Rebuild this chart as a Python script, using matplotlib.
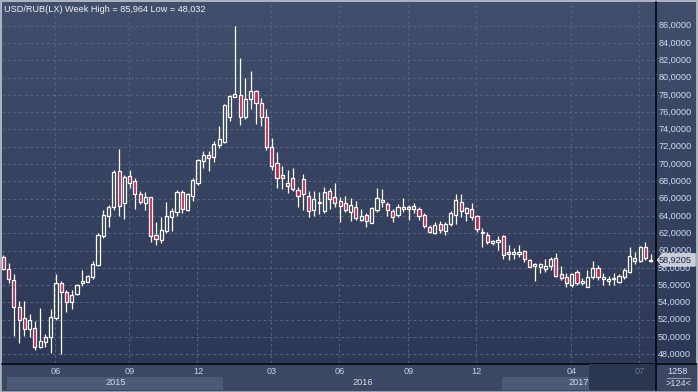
import numpy as np
import matplotlib
matplotlib.use('Agg')
import matplotlib.pyplot as plt
from matplotlib.patches import Rectangle, Polygon

# weekly USD/RUB candles (oldest first)
opens = [59.22, 57.84, 56.60, 53.44, 52.17, 50.90, 51.02, 48.89, 49.47, 50.05,
         52.24, 56.25, 55.25, 54.02, 54.95, 56.22, 56.40, 56.91, 58.37, 61.69,
         64.03, 65.00, 69.20, 65.47, 68.62, 68.05, 66.54, 65.54, 66.20, 61.77,
         61.22, 62.30, 63.92, 64.50, 66.74, 64.69, 66.35, 67.85, 70.39, 71.05,
         70.79, 72.21, 72.59, 75.48, 77.79, 77.95, 75.48, 77.53, 78.45, 77.03,
         75.41, 72.03, 70.09, 68.71, 67.78, 68.36, 66.97, 68.24, 66.31, 64.69,
         65.47, 64.61, 66.89, 66.16, 65.73, 65.47, 64.43, 65.00, 63.54, 64.11,
         63.22, 64.69, 65.85, 65.39, 64.58, 64.11, 64.81, 65.00, 64.84, 64.81,
         64.11, 62.76, 62.07, 63.07, 62.30, 63.07, 64.11, 65.65, 64.38, 64.77,
         64.00, 62.00, 61.80, 60.91, 60.96, 61.69, 59.57, 59.61, 59.61, 59.95,
         58.91, 58.25, 58.14, 57.87, 58.22, 59.11, 57.26, 56.91, 55.99, 57.49,
         56.22, 55.83, 56.91, 57.95, 56.68, 56.52, 56.72, 56.40, 56.91, 57.56,
         58.85, 58.83, 60.38, 58.75]
highs = [59.50, 58.60, 57.29, 54.17, 54.17, 52.67, 51.89, 53.36, 50.36, 53.25,
         57.29, 56.52, 55.44, 55.44, 56.10, 57.75, 57.20, 58.80, 62.00, 64.69,
         65.27, 69.32, 71.75, 68.74, 69.32, 68.43, 66.89, 66.77, 66.25, 63.31,
         63.88, 65.62, 64.89, 67.00, 67.00, 66.60, 68.43, 70.59, 71.51, 71.51,
         72.70, 74.41, 77.00, 77.99, 85.96, 82.30, 79.92, 80.76, 78.57, 77.61,
         76.33, 72.98, 71.36, 69.72, 69.32, 69.51, 67.32, 68.82, 66.89, 66.89,
         66.81, 67.32, 67.20, 67.85, 66.23, 66.35, 66.05, 65.77, 64.81, 64.38,
         65.07, 67.20, 67.12, 65.65, 64.77, 65.39, 66.05, 65.27, 65.47, 65.00,
         64.31, 62.96, 63.34, 63.46, 63.34, 64.58, 66.51, 66.54, 65.07, 65.47,
         64.11, 62.58, 62.18, 61.22, 61.69, 61.77, 60.65, 60.26, 60.65, 60.07,
         59.00, 58.53, 58.53, 58.99, 59.22, 59.69, 58.22, 57.37, 57.37, 57.75,
         56.80, 57.75, 58.83, 58.33, 57.44, 57.06, 57.44, 57.29, 57.95, 60.45,
         59.87, 60.53, 61.03, 59.61]
lows = [57.70, 56.22, 50.13, 49.32, 50.13, 50.05, 48.51, 48.74, 48.89, 48.16,
        51.97, 48.03, 52.93, 53.25, 54.90, 55.94, 56.37, 56.68, 58.20, 61.42,
        62.69, 64.69, 63.99, 63.65, 67.20, 64.81, 65.39, 64.69, 61.03, 60.65,
        60.88, 62.07, 62.30, 64.00, 64.31, 64.60, 65.77, 67.58, 69.58, 69.24,
        70.28, 71.83, 72.40, 75.02, 77.75, 74.52, 75.21, 76.33, 74.63, 74.44,
        71.63, 69.32, 67.27, 67.12, 66.62, 66.92, 65.07, 64.69, 63.92, 64.03,
        64.23, 64.38, 64.81, 65.07, 63.31, 64.50, 63.46, 63.54, 63.46, 62.69,
        63.15, 64.50, 65.00, 64.00, 63.34, 63.92, 64.50, 63.54, 64.38, 63.54,
        62.61, 62.00, 61.88, 62.00, 61.80, 62.84, 63.07, 63.92, 63.42, 63.54,
        62.18, 60.38, 60.76, 60.65, 60.07, 59.03, 58.91, 58.99, 59.22, 58.72,
        58.07, 56.52, 57.37, 57.56, 57.75, 56.98, 56.60, 55.83, 55.76, 56.02,
        55.99, 55.76, 56.68, 56.60, 56.02, 56.02, 56.02, 56.22, 56.68, 57.37,
        58.45, 58.72, 58.91, 58.72]
closes = [57.84, 56.68, 53.51, 51.97, 50.90, 51.97, 48.89, 49.55, 49.98, 52.36,
          56.25, 55.21, 54.02, 54.87, 56.02, 56.48, 57.06, 58.45, 61.80, 64.11,
          65.00, 69.08, 65.15, 68.47, 67.85, 66.51, 65.58, 66.16, 61.72, 61.31,
          62.38, 64.00, 64.58, 66.74, 64.77, 66.51, 68.16, 70.47, 71.05, 70.67,
          72.32, 72.90, 76.83, 77.87, 78.07, 75.48, 77.53, 78.45, 77.03, 75.48,
          72.01, 69.81, 68.36, 68.43, 67.50, 67.09, 66.35, 66.51, 64.61, 65.93,
          65.62, 66.74, 66.00, 65.54, 65.19, 64.69, 65.27, 63.80, 64.00, 63.46,
          64.92, 66.08, 65.58, 64.69, 63.85, 65.00, 65.07, 64.77, 65.12, 64.00,
          62.79, 62.18, 62.96, 62.38, 63.02, 64.38, 65.85, 64.61, 64.89, 63.85,
          62.50, 62.18, 61.03, 61.03, 61.22, 59.49, 59.80, 59.87, 59.87, 58.99,
          58.14, 58.41, 58.41, 58.22, 58.99, 57.10, 56.80, 56.22, 57.26, 56.22,
          56.48, 56.91, 57.95, 56.98, 56.91, 56.68, 56.87, 57.06, 57.75, 59.37,
          59.11, 60.38, 59.11, 58.92]

# x axis: week index of the month ticks
month_pos = [10, 24, 37, 51, 64, 77, 90, 108, 121]
month_lbl = ['06', '09', '12', '03', '06', '09', '12', '04', '07']
# year bands: start, end (week index), label position
year_bands = [(0.7, 41.7, 21.4, '2015'), (41.7, 94.8, 68.3, '2016'), (94.8, 123.8, 109.4, '2017')]
price_ticks = list(range(48, 87, 2))
last_price = 58.9205
title = 'USD/RUB(LX) Week High = 85,964 Low = 48,032'

W, H = 698, 392
plt.rcParams['font.family'] = ['Liberation Sans', 'DejaVu Sans']
fig = plt.figure(figsize=(W / 100, H / 100), dpi=100)

# ---- background / frame (pixel coords) ----
bg = fig.add_axes([0, 0, 1, 1])
bg.set_xlim(0, W)
bg.set_ylim(H, 0)
bg.axis('off')
bg.add_patch(Rectangle((0, 0), W, H, color='#aab2bf', zorder=0))
grad = np.linspace(0, 1, 256).reshape(-1, 1)
top_c = np.array([0x42, 0x4f, 0x6c]) / 255
bot_c = np.array([0x2c, 0x38, 0x55]) / 255
img = top_c + (bot_c - top_c) * grad[..., None]
bg.imshow(img, extent=[2, 696, 363, 2], aspect='auto', zorder=1)
bg.add_patch(Rectangle((2, 363), 694, 27, color='#3c4863', zorder=1))
bg.plot([655.5, 655.5], [2, 390], color='black', lw=1.1, zorder=5)
bg.plot([2, 696], [363.5, 363.5], color='black', lw=1.1, zorder=5)
bg.plot([667, 690], [377.5, 377.5], color='#8d98ad', lw=0.8, zorder=5)
bg.text(678, 371.5, '1258', color='#d8e0ee', fontsize=6.6, ha='center', va='center', zorder=6)
bg.text(678, 384, '>124<', color='#d8e0ee', fontsize=6.6, ha='center', va='center', zorder=6)

# ---- main plot ----
ax = fig.add_axes([2 / W, (H - 363) / H, 653 / W, 361 / H])
ax.patch.set_alpha(0)
ax.set_xlim(-0.25, 123.83)
ax.set_ylim(47.0, 88.74)
for s in ax.spines.values():
    s.set_visible(False)
ax.set_yticks(price_ticks)
ax.set_xticks([m - 0.12 for m in month_pos])
ax.tick_params(length=0, labelleft=False, labelbottom=False)
ax.grid(True, color='#56637f', linestyle=(0, (2.5, 2.5)), lw=0.8)
ax.set_axisbelow(True)

x = np.arange(len(opens))
o = np.array(opens)
c = np.array(closes)
hi = np.array(highs)
lo = np.array(lows)
up = c >= o
body_lo = np.minimum(o, c)
body_hi = np.maximum(o, c)
body_h = np.maximum(body_hi - body_lo, 0.15)

ax.vlines(x, body_lo + body_h, hi, color='white', lw=0.9, zorder=3)
ax.vlines(x, lo, body_lo, color='white', lw=0.9, zorder=3)
ax.bar(x[up], body_h[up], bottom=body_lo[up], width=0.6, facecolor='none',
       edgecolor='white', lw=0.9, zorder=4)
ax.bar(x[~up], body_h[~up], bottom=body_lo[~up], width=0.6, facecolor='#e2153e',
       edgecolor='white', lw=0.9, zorder=4)

fig.text(4 / W, 1 - 9.5 / H, title, color='#eef1f6', fontsize=6.6, va='center')

# right price axis labels
ytr = ax.get_yaxis_transform()
for p in price_ticks:
    ax.text(1.0048, p, '%d,0000' % p, transform=ytr, color='#cfdcf2',
            fontsize=6.6, va='center', ha='left', clip_on=False)

# last price tag
tag = Polygon([[1.0034, last_price], [1.0108, last_price + 0.72], [1.0616, last_price + 0.72],
               [1.0616, last_price - 0.72], [1.0108, last_price - 0.72]],
              closed=True, transform=ytr, facecolor='#c9cdd5', edgecolor='#e4e7ec',
              lw=0.6, clip_on=False, zorder=8)
ax.add_patch(tag)
ax.text(1.0055, last_price, '58,9205', transform=ytr, color='#1b2a52', fontsize=6.6,
        va='center', ha='left', clip_on=False, zorder=9)

# bottom axis: year bands, dark current-range block, month labels
xtr = ax.get_xaxis_transform()
for i, (a, b, lx, lbl) in enumerate(year_bands):
    if i % 2 == 0:
        ax.add_patch(Rectangle((a, -0.075), b - a, 0.037, transform=xtr,
                               facecolor='#4d5a76', edgecolor='none', clip_on=False, zorder=1))
    ax.text(lx, -0.0545, lbl, transform=xtr, color='#d4dbe8', fontsize=6.6,
            ha='center', va='center', clip_on=False, zorder=3)
ax.add_patch(Rectangle((111.3, -0.075), 123.83 - 111.3, 0.073, transform=xtr,
                       facecolor='#2b3651', edgecolor='none', clip_on=False, zorder=2))
for m, lbl in zip(month_pos, month_lbl):
    col = '#6d7892' if m > 111.3 else '#c3d0ea'
    ax.text(m, -0.024, lbl, transform=xtr, color=col, fontsize=6.6,
            ha='center', va='center', clip_on=False, zorder=3)

fig.savefig('out.png', dpi=100)
